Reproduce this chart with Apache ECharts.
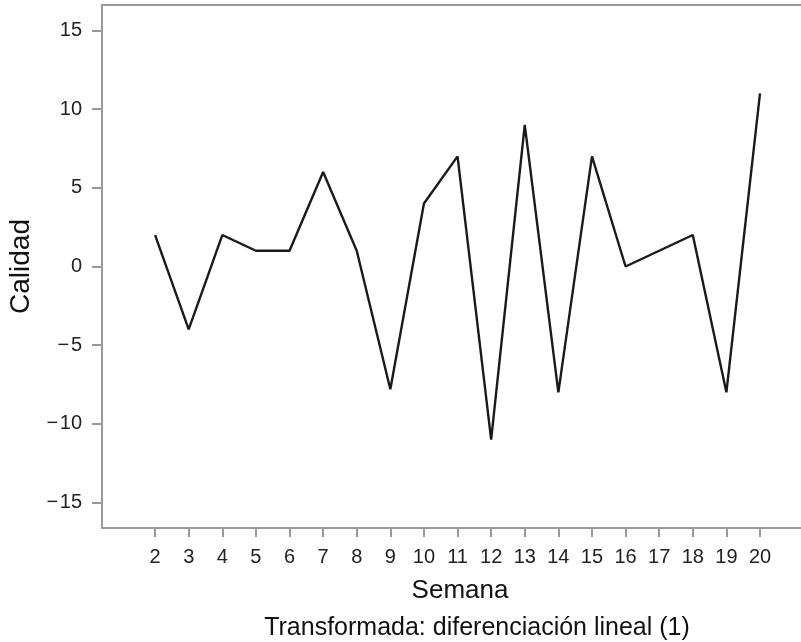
<!DOCTYPE html>
<html>
<head>
<meta charset="utf-8">
<script src="https://cdn.jsdelivr.net/npm/echarts@6/dist/echarts.min.js"></script>
<style>
  html, body { margin: 0; padding: 0; background: #fff; }
  #chart { width: 801px; height: 642px; }
</style>
</head>
<body>
<div id="chart"></div>
<script>
// Weekly quality series after first-order differencing
const semanas = [2, 3, 4, 5, 6, 7, 8, 9, 10, 11, 12, 13, 14, 15, 16, 17, 18, 19, 20];
const calidad = [2, -4, 2, 1, 1, 6, 1, -7.8, 4, 7, -11, 9, -8, 7, 0, 1, 2, -8, 11];
const yTicks = [-15, -10, -5, 0, 5, 10, 15];

const font = 'Liberation Sans, Arial, Helvetica, sans-serif';
const axisGray = '#9a9a9a';

const chart = echarts.init(document.getElementById('chart'), null, { renderer: 'canvas' });
chart.setOption({
  animation: false,
  backgroundColor: '#ffffff',
  grid: { left: 102, top: 5, right: 0, bottom: 114, containLabel: false, outerBoundsMode: 'none' },
  title: {
    text: 'Transformada: diferenciación lineal (1)',
    left: 472, top: 611, textAlign: 'center',
    textStyle: { fontFamily: font, fontSize: 25, fontWeight: 'normal', color: '#111' }
  },
  xAxis: [{
    type: 'value',
    min: 0.42, max: 21.22,
    name: 'Semana', nameLocation: 'middle', nameGap: 50,
    nameTextStyle: { fontFamily: font, fontSize: 26, color: '#111', padding: [0, 0, 0, 17] },
    axisLine: { show: true, onZero: false, lineStyle: { color: axisGray, width: 2 } },
    axisTick: { show: true, length: 9, customValues: semanas, lineStyle: { color: axisGray, width: 2 } },
    axisLabel: { customValues: semanas, margin: 19, fontFamily: font, fontSize: 20, color: '#222' },
    splitLine: { show: false }
  }, {
    type: 'value', position: 'top',
    min: 0.42, max: 21.22,
    axisLine: { show: true, onZero: false, lineStyle: { color: axisGray, width: 2 } },
    axisTick: { show: false }, axisLabel: { show: false }, splitLine: { show: false }
  }],
  yAxis: {
    type: 'value',
    min: -16.62, max: 16.62,
    name: 'Calidad', nameLocation: 'middle', nameGap: 58, nameRotate: 90,
    nameTextStyle: { fontFamily: font, fontSize: 28, color: '#111' },
    axisLine: { show: true, onZero: false, lineStyle: { color: axisGray, width: 2 } },
    axisTick: { show: true, length: 10, customValues: yTicks, lineStyle: { color: axisGray, width: 2 } },
    axisLabel: {
      customValues: yTicks, margin: 20, fontFamily: font, fontSize: 20, color: '#222',
      formatter: v => (v < 0 ? '\u2212\u200A' + Math.abs(v) : String(v))
    },
    splitLine: { show: false }
  },
  series: [{
    type: 'line',
    data: semanas.map((s, i) => [s, calidad[i]]),
    showSymbol: false,
    lineStyle: { color: '#1a1a1a', width: 2.4 }
  }]
});
</script>
</body>
</html>
